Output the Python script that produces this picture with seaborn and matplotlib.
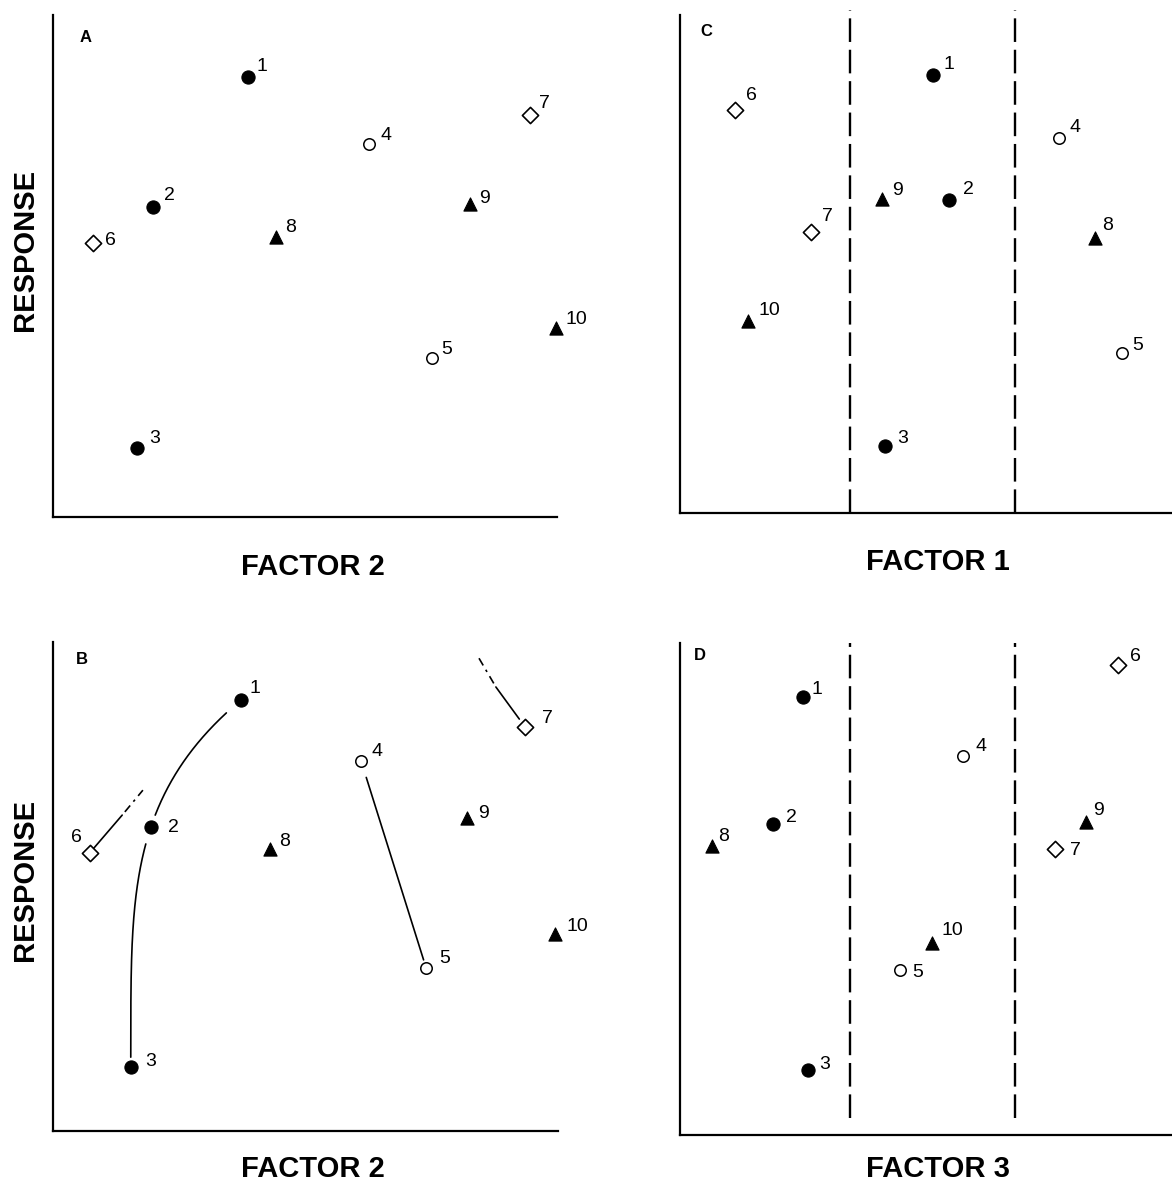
import numpy as np
import pandas as pd
import matplotlib
matplotlib.use("Agg")
import matplotlib.pyplot as plt
import seaborn as sns

sns.set_theme(style="white")
plt.rcParams['font.family'] = ['Liberation Sans', 'DejaVu Sans']

# ---------------- data (0-10 scales) ----------------
point_ids = [1, 2, 3, 4, 5, 6, 7, 8, 9, 10]
point_kind = ["closed circle"] * 3 + ["open circle"] * 2 + ["open diamond"] * 2 + ["closed triangle"] * 3

a_factor2 = [3.87, 1.98, 1.67, 6.27, 7.52, 0.79, 9.46, 4.42, 8.27, 9.98]
a_response = [8.76, 6.18, 1.37, 7.43, 3.17, 5.46, 8.01, 5.58, 6.24, 3.76]

b_factor2 = [3.72, 1.94, 1.54, 6.10, 7.39, 0.73, 9.35, 4.30, 8.20, 9.94]
b_response = [8.81, 6.22, 1.31, 7.57, 3.33, 5.69, 8.26, 5.77, 6.40, 4.03]

c_factor1 = [5.14, 5.47, 4.17, 7.70, 8.98, 1.12, 2.66, 8.43, 4.11, 1.38]
c_response = [8.80, 6.29, 1.35, 7.53, 3.21, 8.09, 5.64, 5.52, 6.31, 3.86]

d_factor3 = [2.50, 1.89, 2.60, 5.75, 4.47, 8.90, 7.62, 0.65, 8.25, 5.12]
d_response = [8.90, 6.32, 1.32, 7.70, 3.35, 9.55, 5.81, 5.87, 6.36, 3.90]

c_cutoffs = [3.46, 6.81]
d_cutoffs = [3.46, 6.81]

# extrapolation stubs in panel B: (solid end, dash-dot end)
b_stub6_x = [1.37, 1.78]
b_stub6_y = [6.46, 6.97]
b_stub7_x = [8.77, 8.40]
b_stub7_y = [9.08, 9.73]

# ---------------- styles ----------------
W, H = 1172, 1186
kind_style = {
    "closed circle": dict(marker="o", s=90, facecolor="black", edgecolor="black", linewidth=0.8),
    "open circle": dict(marker="o", s=68, facecolor="white", edgecolor="black", linewidth=1.1),
    "open diamond": dict(marker="D", s=68, facecolor="white", edgecolor="black", linewidth=1.2),
    "closed triangle": dict(marker="^", s=90, facecolor="black", edgecolor="black", linewidth=0.8),
}

# label offsets in pixels (dx, dy up)
off_a = {1: (14, 11), 2: (17, 11), 3: (17, 10), 4: (17, 9), 5: (15, 8), 6: (18, 2),
         7: (15, 11), 8: (15, 9), 9: (15, 5), 10: (20, 9)}
off_b = {1: (14, 12), 2: (22, -1), 3: (20, 5), 4: (16, 9), 5: (18, 10), 6: (-13, 15),
         7: (22, 9), 8: (14, 7), 9: (16, 5), 10: (22, 7)}
off_c = {1: (16, 10), 2: (19, 10), 3: (17, 7), 4: (16, 11), 5: (16, 8), 6: (16, 15),
         7: (17, 16), 8: (13, 13), 9: (15, 8), 10: (21, 10)}
off_d = {1: (14, 8), 2: (18, 7), 3: (17, 6), 4: (18, 10), 5: (18, -2), 6: (18, 9),
         7: (21, -1), 8: (12, 10), 9: (13, 12), 10: (20, 13)}


def px_axes(left, top, right, bottom):
    return [left / W, 1 - bottom / H, (right - left) / W, (bottom - top) / H]


fig = plt.figure(figsize=(W / 100, H / 100), dpi=100)
fig.patch.set_facecolor("white")

ax_a = fig.add_axes(px_axes(53, 15, 557, 517))
ax_c = fig.add_axes(px_axes(680, 15, 1172, 513))
ax_b = fig.add_axes(px_axes(53, 642, 558, 1131))
ax_d = fig.add_axes(px_axes(680, 643, 1172, 1135))


def draw_panel(ax, xs, ys, offsets):
    df = pd.DataFrame({"x": xs, "y": ys, "id": point_ids, "kind": point_kind})
    for kind, sub in df.groupby("kind", sort=False):
        st = kind_style[kind]
        sns.scatterplot(data=sub, x="x", y="y", ax=ax, marker=st["marker"], s=st["s"],
                        facecolor=st["facecolor"], edgecolor=st["edgecolor"],
                        linewidth=st["linewidth"], zorder=3, clip_on=False, legend=False)
    for _, r in df.iterrows():
        dx, dy = offsets[int(r["id"])]
        ax.annotate(str(int(r["id"])), (r["x"], r["y"]), xytext=(dx, dy),
                    textcoords="offset pixels", ha="center", va="center",
                    fontsize=14, color="black")
    ax.set_xlim(0, 10)
    ax.set_ylim(0, 10)
    ax.set_xticks([])
    ax.set_yticks([])
    ax.set_xlabel("")
    ax.set_ylabel("")
    for side in ["top", "right"]:
        ax.spines[side].set_visible(False)
    for side in ["left", "bottom"]:
        ax.spines[side].set_color("black")
        ax.spines[side].set_linewidth(1.6)
    ax.patch.set_alpha(0)


draw_panel(ax_a, a_factor2, a_response, off_a)
draw_panel(ax_b, b_factor2, b_response, off_b)
draw_panel(ax_c, c_factor1, c_response, off_c)
draw_panel(ax_d, d_factor3, d_response, off_d)

# dashed cut-off lines
dash = (0, (10, 3.3))
for xc in c_cutoffs:
    ax_c.axvline(xc, ymin=0, ymax=1.01, color="black", lw=1.7, linestyle=dash, clip_on=False)
for xc in d_cutoffs:
    ax_d.axvline(xc, ymin=0.035, ymax=1.0, color="black", lw=1.7, linestyle=dash, clip_on=False)

# ---- panel B trend lines ----
x1, x2, x3 = b_factor2[0], b_factor2[1], b_factor2[2]
y1, y2, y3 = b_response[0], b_response[1], b_response[2]
s2 = (y2 - y3) / (y1 - y3)
p = np.log((x2 - x3) / (x1 - x3)) / np.log(s2)


def curve(ya, yb):
    yy = np.linspace(ya, yb, 200)
    ss = (yy - y3) / (y1 - y3)
    return x3 + (x1 - x3) * ss ** p, yy


cx, cy = curve(y3 + 0.2, y2 - 0.35)
ax_b.plot(cx, cy, color="black", lw=1.2)
cx, cy = curve(y2 + 0.24, y1 - 0.26)
ax_b.plot(cx, cy, color="black", lw=1.2)

x4, y4 = b_factor2[3], b_response[3]
x5, y5 = b_factor2[4], b_response[4]
t = np.array([0.08, 0.96])
ax_b.plot(x4 + (x5 - x4) * t, y4 + (y5 - y4) * t, color="black", lw=1.2)

# stub from 6
x6, y6 = b_factor2[5], b_response[5]
t = 0.12
ax_b.plot([x6 + (b_stub6_x[0] - x6) * t, b_stub6_x[0]], [y6 + (b_stub6_y[0] - y6) * t, b_stub6_y[0]],
          color="black", lw=1.2)
ax_b.plot([b_stub6_x[0], b_stub6_x[1]], [b_stub6_y[0], b_stub6_y[1]],
          color="black", lw=1.2, linestyle=(2, (1.5, 3, 5, 3)))
# stub from 7
x7, y7 = b_factor2[6], b_response[6]
t = 0.2
ax_b.plot([x7 + (b_stub7_x[0] - x7) * t, b_stub7_x[0]], [y7 + (b_stub7_y[0] - y7) * t, b_stub7_y[0]],
          color="black", lw=1.2)
ax_b.plot([b_stub7_x[0], b_stub7_x[1]], [b_stub7_y[0], b_stub7_y[1]],
          color="black", lw=1.2, linestyle=(2, (1.5, 3, 5, 3)), clip_on=False)

# ---------------- texts ----------------
def ftext(x, y, s, **kw):
    fig.text(x / W, 1 - y / H, s, ha="center", va="center", color="black", **kw)


ftext(25, 250, "RESPONSE", fontsize=21, fontweight="bold", rotation=90)
ftext(25, 880, "RESPONSE", fontsize=21, fontweight="bold", rotation=90)
ftext(313, 567, "FACTOR 2", fontsize=21, fontweight="bold")
ftext(938, 562, "FACTOR 1", fontsize=21, fontweight="bold")
ftext(313, 1169, "FACTOR 2", fontsize=21, fontweight="bold")
ftext(938, 1169, "FACTOR 3", fontsize=21, fontweight="bold")

ftext(86, 38, "A", fontsize=12, fontweight="bold")
ftext(706, 31, "C", fontsize=12, fontweight="bold")
ftext(82, 659, "B", fontsize=12, fontweight="bold")
ftext(700, 655, "D", fontsize=12, fontweight="bold")

fig.savefig("out.png", dpi=100, facecolor="white")
